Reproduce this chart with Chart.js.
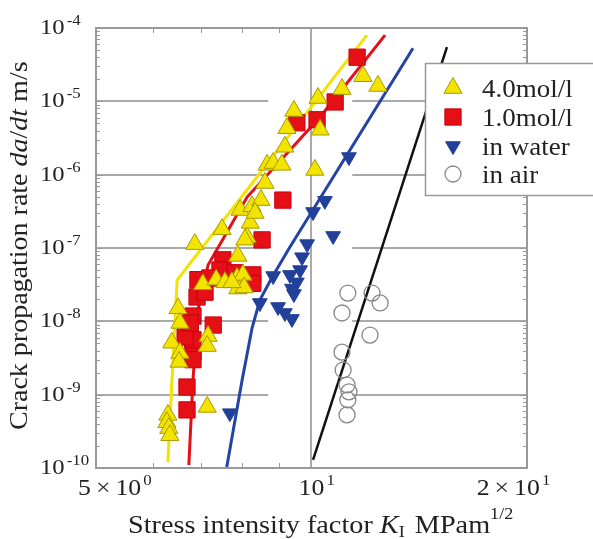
<!DOCTYPE html>
<html>
<head>
<meta charset="utf-8" />
<title>Crack propagation rate vs K</title>
<script src="https://cdn.jsdelivr.net/npm/chart.js@4.4.1/dist/chart.umd.min.js"></script>
<style>
 html, body { margin: 0; padding: 0; background: #fff; }
 #wrap { width: 593px; height: 539px; }
</style>
</head>
<body>
<div id="wrap"><canvas id="crackChart"></canvas></div>
<script>
// values: K in MPa m^1/2, da/dt in m/s
var k40 = [6.30, 6.28, 6.32, 6.34, 7.15, 6.51, 6.55, 6.38, 6.55, 6.53, 7.17, 7.15, 6.87, 7.05, 7.36,
           7.57, 7.87, 7.89, 7.50, 7.95, 8.26, 8.50, 8.61, 7.89, 8.13, 8.67, 8.84, 9.09, 9.18, 9.24,
           9.45, 10.21, 10.28, 10.11, 11.03, 11.80, 12.38, 8.21, 8.07, 8.02, 8.05, 8.34, 7.74];
var v40 = [5.3e-10, 4.2e-10, 3.5e-10, 2.8e-10, 6.8e-10, 1.5e-8, 9.5e-9, 5.1e-9, 3.7e-9, 2.8e-9, 6.3e-9, 4.6e-9, 1.13e-7, 3.2e-8, 3.7e-8,
           3.4e-8, 3.9e-8, 2.8e-8, 1.8e-7, 3.3e-7, 3.7e-7, 4.5e-7, 7.7e-7, 7.8e-8, 1.4e-7, 1.36e-6, 1.44e-6, 1.36e-6, 2.4e-6, 4.3e-6,
           7.4e-6, 1.11e-5, 4.1e-6, 1.16e-6, 1.47e-5, 2.2e-5, 1.62e-5, 2.2e-7, 1.3e-7, 4.3e-8, 2.9e-8, 3.0e-7, 3.4e-8];

var k10 = [6.70, 6.70, 6.83, 6.83, 6.66, 7.29, 6.83, 6.92, 6.94, 7.52, 7.45, 7.82, 8.28, 8.28, 8.53, 9.12,
           9.54, 10.18, 10.79, 11.58, 7.10, 6.77, 7.21, 6.83];
var v10 = [6.2e-10, 1.27e-9, 3.8e-9, 5.6e-9, 6.1e-9, 8.9e-9, 1.18e-8, 2.15e-8, 3.7e-8, 6.9e-8, 5.0e-8, 4.6e-8, 4.3e-8, 3.3e-8, 1.29e-7, 4.5e-7,
           5.1e-6, 5.6e-6, 9.8e-6, 4.0e-5, 2.5e-8, 9.5e-9, 3.9e-8, 3.0e-9];

var kWater = [7.69, 8.47, 8.84, 9.33, 9.54, 9.39, 9.45, 8.98, 9.18, 9.39, 9.64, 9.70, 9.86, 10.05, 10.44, 10.72, 11.28];
var vWater = [5.6e-10, 1.78e-8, 4.15e-8, 4.3e-8, 3.4e-8, 2.8e-8, 2.36e-8, 1.57e-8, 1.3e-8, 1.08e-8, 5.0e-8, 7.5e-8, 1.13e-7, 3.1e-7, 4.4e-7, 1.46e-7, 1.74e-6];

var kAir = [11.24, 12.15, 12.47, 11.03, 12.07, 11.03, 11.07, 11.21, 11.28, 11.24, 11.21];
var vAir = [2.43e-8, 2.43e-8, 1.78e-8, 1.3e-8, 6.5e-9, 3.8e-9, 2.17e-9, 1.36e-9, 1.09e-9, 8.5e-10, 5.3e-10];

// fitted curves
var fit40K = [6.30, 6.49, 11.95];
var fit40V = [1.2e-10, 3.66e-8, 8.0e-5];
var fit10K = [6.74, 6.83, 6.94, 7.17, 8.13, 10.28, 12.67];
var fit10V = [1.1e-10, 1.58e-9, 1.43e-8, 5.86e-8, 4.95e-7, 6.11e-6, 8.0e-5];
var fitWaterK = [7.61, 8.00, 8.26, 8.47, 8.81, 9.33, 13.86];
var fitWaterV = [1.0e-10, 1.58e-9, 8.1e-9, 1.95e-8, 4.0e-8, 1.03e-7, 5.3e-5];
var fitAirK = [10.05, 15.46];
var fitAirV = [1.29e-10, 5.5e-5];

// axes
var xTicks = [5, 10, 20];
var xTickPre = ["5", "", "2"];
var xTickExp = ["0", "1", "1"];
var xMinor = [6, 7, 8, 9];
var yTicks = [1e-4, 1e-5, 1e-6, 1e-7, 1e-8, 1e-9, 1e-10];
var yTickExp = ["-4", "-5", "-6", "-7", "-8", "-9", "-10"];
var yGrid = [1e-5, 1e-6, 1e-7, 1e-8, 1e-9];
var legendNames = ["4.0mol/l", "1.0mol/l", "in water", "in air"];

var SERIF = "'Liberation Serif', 'DejaVu Serif', serif";
var YEL = "#f3e400", YEL_EDGE = "#a89a00";
var RED = "#e50f16", BLUE = "#22409a", GRID = "#aaaaaa";

function pts(xs, ys) {
 return xs.map(function (x, i) { return { x: x, y: ys[i] }; });
}

function drawRuns(ctx, runs, x, y, sx) {
 var pos = 0;
 runs.forEach(function (r) {
  ctx.font = r.font;
  ctx.save();
  ctx.translate(x + pos, y + (r.dy || 0));
  ctx.scale(sx, 1);
  ctx.fillText(r.text, 0, 0);
  ctx.restore();
  pos += ctx.measureText(r.text).width * sx + (r.gap || 0);
 });
 return pos;
}

function runsWidth(ctx, runs, sx) {
 var w = 0;
 runs.forEach(function (r) { ctx.font = r.font; w += ctx.measureText(r.text).width * sx + (r.gap || 0); });
 return w;
}

var decor = {
 id: "decor",
 beforeDatasetsDraw: function (chart) {
  var ctx = chart.ctx, a = chart.chartArea, xs = chart.scales.x, ys = chart.scales.y;
  ctx.save();
  ctx.strokeStyle = GRID;
  ctx.lineWidth = 2;
  var gapL = xs.getPixelForValue(8.7), gapR = xs.getPixelForValue(11.4);
  yGrid.forEach(function (v) {
   var py = Math.round(ys.getPixelForValue(v));
   ctx.beginPath();
   ctx.moveTo(a.left, py); ctx.lineTo(gapL, py);
   ctx.moveTo(gapR, py); ctx.lineTo(a.right, py);
   ctx.stroke();
  });
  var px = Math.round(xs.getPixelForValue(10));
  ctx.beginPath(); ctx.moveTo(px, a.top); ctx.lineTo(px, a.bottom); ctx.stroke();
  ctx.restore();
 },
 afterDatasetsDraw: function (chart) {
  var ctx = chart.ctx, a = chart.chartArea, xs = chart.scales.x, ys = chart.scales.y;
  ctx.save();
  // frame
  ctx.strokeStyle = "#999";
  ctx.lineWidth = 2;
  ctx.strokeRect(a.left, a.top, a.right - a.left, a.bottom - a.top);
  // minor ticks
  ctx.lineWidth = 1;
  ctx.beginPath();
  xMinor.forEach(function (k) {
   var px = Math.round(xs.getPixelForValue(k)) + 0.5;
   ctx.moveTo(px, a.top); ctx.lineTo(px, a.top + 5);
   ctx.moveTo(px, a.bottom); ctx.lineTo(px, a.bottom - 5);
  });
  for (var e = -10; e < -4; e++) {
   for (var m = 1; m < 10; m++) {
    var py = Math.round(ys.getPixelForValue(m * Math.pow(10, e))) + 0.5;
    var len = m === 1 ? 7 : 4;
    ctx.moveTo(a.left, py); ctx.lineTo(a.left + len, py);
    ctx.moveTo(a.right, py); ctx.lineTo(a.right - len, py);
   }
  }
  ctx.stroke();

  // tick labels
  ctx.fillStyle = "#222";
  ctx.textBaseline = "alphabetic";
  var big = "22px " + SERIF, sup = "15px " + SERIF;
  yTicks.forEach(function (v, i) {
   var py = ys.getPixelForValue(v);
   var w = drawRuns(ctx, [{ text: "10", font: big }], 40, py + 6, 1.12);
   drawRuns(ctx, [{ text: yTickExp[i], font: sup }], 40 + w + 2, py - 3, 1.12);
  });
  var xbig = "23px " + SERIF;
  xTicks.forEach(function (v, i) {
   var px = xs.getPixelForValue(v);
   var pre = xTickPre[i] ? [{ text: xTickPre[i], font: xbig, gap: 5 }, { text: "×", font: xbig, gap: 5 }] : [];
   var wPre = runsWidth(ctx, pre, 1.12);
   var w10 = runsWidth(ctx, [{ text: "10", font: xbig }], 1.12);
   var x0 = Math.max(px - w10 / 2 - wPre, 78);
   var w = drawRuns(ctx, pre.concat([{ text: "10", font: xbig }]), x0, 495, 1.12);
   drawRuns(ctx, [{ text: xTickExp[i], font: sup }], x0 + w + 2, 485, 1.12);
  });

  // axis titles
  var t = "25px " + SERIF, ti = "italic 25px " + SERIF, ts = "16px " + SERIF;
  drawRuns(ctx, [
   { text: "Stress intensity factor ", font: t },
   { text: "K", font: ti },
   { text: "I", font: ts, dy: 4, gap: 3 },
   { text: " MPam", font: t },
   { text: "1/2", font: ts, dy: -14 }
  ], 128, 533, 1.13);
  ctx.save();
  ctx.translate(27, 430);
  ctx.rotate(-Math.PI / 2);
  drawRuns(ctx, [
   { text: "Crack propagation rate ", font: t },
   { text: "da", font: ti },
   { text: "/", font: t },
   { text: "dt", font: ti },
   { text: " m/s", font: t }
  ], 0, 0, 1.12);
  ctx.restore();
  ctx.restore();
 },
 afterDraw: function (chart) {
  // legend box floating over the plot
  var ctx = chart.ctx;
  ctx.save();
  ctx.fillStyle = "#fff";
  ctx.strokeStyle = "#999";
  ctx.lineWidth = 1.5;
  ctx.fillRect(425, 63, 180, 132);
  ctx.strokeRect(425.5, 63.5, 180, 132);
  var rowY = [88, 117, 146, 174];
  chart.data.datasets.slice(0, 4).forEach(function (ds, i) {
   ctx.fillStyle = ds.backgroundColor;
   ctx.strokeStyle = ds.borderColor;
   ctx.lineWidth = ds.borderWidth;
   Chart.helpers.drawPoint(ctx, {
    pointStyle: ds.pointStyle, radius: ds.pointRadius,
    rotation: ds.rotation || 0, borderWidth: ds.borderWidth
   }, 453, rowY[i]);
   ctx.fillStyle = "#222";
   drawRuns(ctx, [{ text: legendNames[i], font: "25px " + SERIF }], 482, rowY[i] + 9, 1.08);
  });
  ctx.restore();
 }
};

function fitLine(xs, ys, color, width) {
 return {
  data: pts(xs, ys), showLine: true, pointRadius: 0, borderColor: color,
  backgroundColor: color, borderWidth: width, fill: false, order: 10
 };
}

new Chart(document.getElementById("crackChart"), {
 type: "scatter",
 data: {
  datasets: [
   { label: "4.0mol/l", data: pts(k40, v40), pointStyle: "triangle", pointRadius: 10.5,
     backgroundColor: YEL, borderColor: YEL_EDGE, borderWidth: 1, order: 1 },
   { label: "1.0mol/l", data: pts(k10, v10), pointStyle: "rect", pointRadius: 11.5,
     backgroundColor: RED, borderColor: "#c80010", borderWidth: 1, order: 2 },
   { label: "in water", data: pts(kWater, vWater), pointStyle: "triangle", rotation: 180, pointRadius: 8.5,
     backgroundColor: BLUE, borderColor: BLUE, borderWidth: 1, order: 3 },
   { label: "in air", data: pts(kAir, vAir), pointStyle: "circle", pointRadius: 8,
     backgroundColor: "rgba(255,255,255,0)", borderColor: "#888", borderWidth: 1.3, order: 4 },
   fitLine(fit40K, fit40V, YEL, 3),
   fitLine(fit10K, fit10V, RED, 3),
   fitLine(fitWaterK, fitWaterV, "#2443a6", 3),
   fitLine(fitAirK, fitAirV, "#111", 2.5)
  ]
 },
 options: {
  responsive: true,
  maintainAspectRatio: false,
  animation: false,
  layout: { padding: { left: 96, top: 28, right: 66, bottom: 71 } },
  plugins: { legend: { display: false }, tooltip: { enabled: false } },
  scales: {
   x: { type: "logarithmic", min: 5, max: 20, display: false },
   y: { type: "logarithmic", min: 1e-10, max: 1e-4, display: false }
  }
 },
 plugins: [decor]
});
</script>
</body>
</html>
